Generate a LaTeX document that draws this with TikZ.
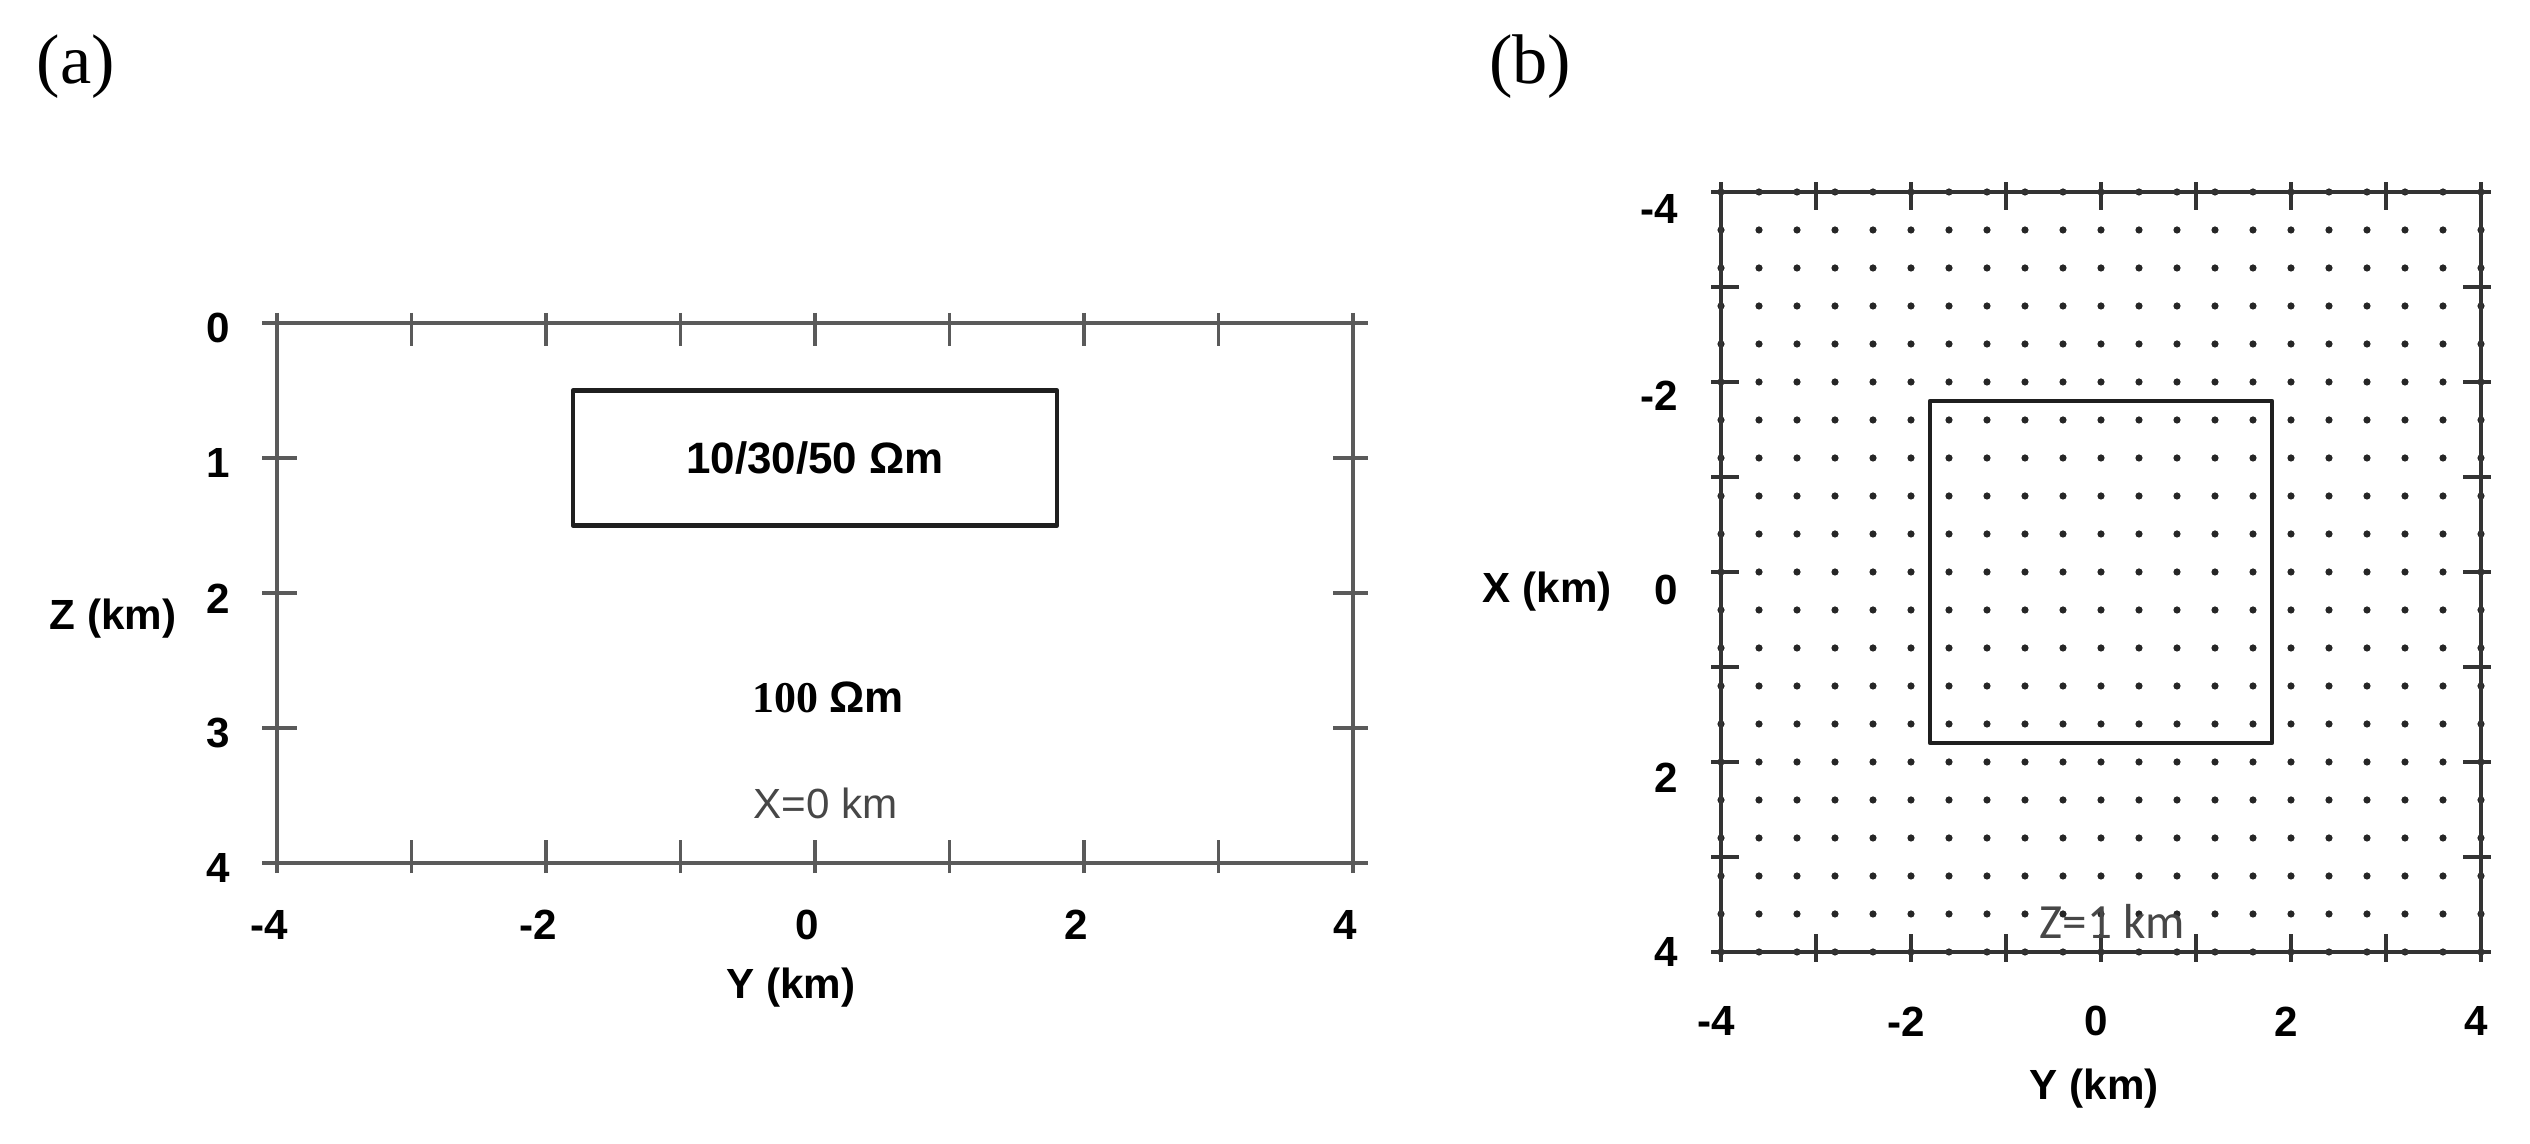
\documentclass[tikz,border=0pt]{standalone}
\usepackage{fontspec}
\setmainfont{Liberation Serif}
\setsansfont{Liberation Sans}
\newfontfamily\calfont{Carlito}
\definecolor{framegray}{HTML}{5A5A5A}
\definecolor{textgray}{HTML}{474747}
\tikzset{
    ticklab/.style={font=\sffamily\bfseries\fontsize{12}{14}\selectfont,inner sep=1pt},
    axlab/.style={font=\sffamily\bfseries\fontsize{12}{14}\selectfont,inner sep=1pt},
    panel/.style={font=\fontsize{20}{24}\selectfont,inner sep=0pt},
    frameline/.style={line width=1.1pt},
    body/.style={line width=1.3pt,draw=black!88}
}

\begin{document}
\begin{tikzpicture}[line join=round,
    cutlab/.style={font=\sffamily\fontsize{12}{14}\selectfont,text=textgray}]
    \useasboundingbox (0,0) rectangle (25.3,-11.44);
    \node[panel] (pa) at (0.76,-0.67) {(a)};
    \node[panel] (pb) at (15.30,-0.67) {(b)};
    % (a) section Y-Z
    \begin{scope}[shift={(8.15,-3.23)},x=1.345cm,y=-1.35cm]
        \draw[frameline,framegray] (-4,0) rectangle (4,4);
        \foreach \t in {-4,...,4}
            {\draw[frameline,framegray] (\t,-0.075) -- (\t,0.17) (\t,4.075) -- (\t,3.83);}
        \foreach \t in {0,...,4}
            {\draw[frameline,framegray] (-4.11,\t) -- (-3.85,\t) (4.11,\t) -- (3.85,\t);
            \node[ticklab,anchor=east] (za\t) at (-4.32,\t+0.04) {\t};}
        \foreach \t in {-4,-2,...,4}
            {\node[ticklab] (ya\t) at (\t-0.06,4.46) {\t};}
        \draw[body] (-1.8,0.5) rectangle (1.8,1.5);
        \node[font=\sffamily\bfseries\fontsize{12.5}{15}\selectfont] (rhoin) at (0,1) {10/30/50 Ωm};
        \node[font=\bfseries\fontsize{12.5}{15}\selectfont] (rhoout) at (0.1,2.77) {100 {\sffamily Ωm}};
        \node[cutlab] (cutx) at (0.08,3.56) {X=0 km};
        \node[axlab] (zlab) at (-5.22,2.19) {Z (km)};
        \node[axlab] (ylaba) at (-0.18,4.92) {Y (km)};
    \end{scope}
    % (b) plan view at Z=1 km
    \begin{scope}[shift={(21.01,-5.72)},x=0.95cm,y=-0.95cm]
        \foreach \i in {0,...,20}
            \foreach \j in {0,...,20}
                {\fill[black!85] (-4+0.4*\i,-4+0.4*\j) circle[radius=0.036cm];}
        \draw[frameline,black!80] (-4,-4) rectangle (4,4);
        \foreach \t in {-4,...,4}
            {\draw[frameline,black!80] (\t,-4.105) -- (\t,-3.81) (\t,4.105) -- (\t,3.81)
                (-4.105,\t) -- (-3.81,\t) (4.105,\t) -- (3.81,\t);}
        \foreach \t/\dy in {-4/0.18,-2/0.15,0/0.19,2/0.17,4/0}
            {\node[ticklab,anchor=east] (xb\t) at (-4.41,\t+\dy) {\t};}
        \foreach \t in {-4,-2,...,4}
            {\node[ticklab] (yb\t) at (\t-0.05,4.73) {\t};}
        \draw[body] (-1.8,-1.8) rectangle (1.8,1.8);
        \node[cutlab,font=\calfont\fontsize{14}{16}\selectfont] (cutz) at (0.12,3.68) {Z=1 km};
        \node[axlab] (xlab) at (-5.83,0.21) {X (km)};
        \node[axlab] (ylabb) at (-0.07,5.44) {Y (km)};
    \end{scope}
\end{tikzpicture}
\end{document}
